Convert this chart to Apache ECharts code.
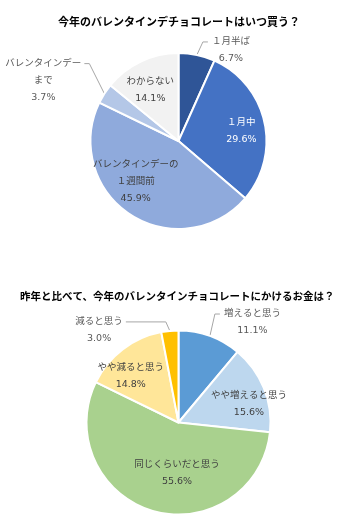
<!DOCTYPE html>
<html><head><meta charset="utf-8">
<script src="https://cdn.jsdelivr.net/npm/echarts@6/dist/echarts.min.js"></script>
<style>html,body{margin:0;padding:0;background:#fff}#c{width:358px;height:529px}</style>
</head><body><div id="c"></div>
<script>
// ---- data ----
const title1 = '今年のバレンタインデチョコレートはいつ買う？';
const whenCategories = ['１月半ば', '１月中', 'バレンタインデーの\n１週間前', 'バレンタインデー\nまで', 'わからない'];
const whenValues = [6.7, 29.6, 45.9, 3.7, 14.1];

const title2 = '昨年と比べて、今年のバレンタインチョコレートにかけるお金は？';
const spendCategories = ['増えると思う', 'やや増えると思う', '同じくらいだと思う', 'やや減ると思う', '減ると思う'];
const spendValues = [11.1, 15.6, 55.6, 14.8, 3.0];

// ---- styles ----
const FONT = '"DejaVu Sans", "Noto Sans CJK JP", sans-serif';
const TFONT = '"Noto Sans CJK JP", sans-serif';
const FS = 9.5;
const LH = 17;
const whenColors = ['#2F5597', '#4472C4', '#8FAADC', '#B4C7E7', '#F2F2F2'];
const spendColors = ['#5B9BD5', '#BDD7EE', '#A9D18E', '#FFE699', '#FFC000'];
const whenText = ['g', 'w', 'd', 'g', 'd'];
const spendText = ['g', 'd', 'd', 'd', 'g'];
// inside: label shift; outside: leader line [dx1, dy1, horizontal]
const whenTweak = [{line: [6, -13, 5]}, {dx: 17, dy: 0}, {dx: -17, dy: 1}, {line: [-15, -30, -5]}, {dx: -8, dy: -9}];
const spendTweak = [{line: [5, -22, 5]}, {dx: 25, dy: 0}, {dx: 12, dy: 3}, {dx: -18, dy: -8}, {line: [-4, -9, -40]}];

const rich = {
  g: {color: '#595959', fontSize: FS, lineHeight: LH, align: 'center', fontFamily: FONT},
  d: {color: '#404040', fontSize: FS, lineHeight: LH, align: 'center', fontFamily: FONT},
  w: {color: '#FFFFFF', fontSize: FS, lineHeight: LH, align: 'center', fontFamily: FONT}
};

function makeSeries(cats, vals, colors, textStyles, tweaks, center, radius) {
  return {
    type: 'pie', center: center, radius: radius, startAngle: 90, clockwise: true,
    avoidLabelOverlap: false, silent: true,
    itemStyle: {borderColor: '#fff', borderWidth: 2},
    labelLine: {show: true, length: 10, length2: 5, lineStyle: {color: '#A6A6A6', width: 1}},
    label: {
      position: 'inside', fontFamily: FONT, fontSize: FS, rich: rich,
      formatter: function (p) {
        const k = textStyles[p.dataIndex];
        const lines = p.name.split('\n').concat([p.value.toFixed(1) + '%']);
        return lines.map(s => '{' + k + '|' + s + '}').join('\n');
      }
    },
    labelLayout: function (params) {
      const t = tweaks[params.dataIndex];
      const r = params.labelRect;
      if (t.line && params.labelLinePoints) {
        const p0 = params.labelLinePoints[0];
        const p1 = [p0[0] + t.line[0], p0[1] + t.line[1]];
        const p2 = [p1[0] + t.line[2], p1[1]];
        const right = t.line[2] > 0;
        return {x: p2[0] + (right ? 4 : -3), y: p2[1] - LH / 2, align: right ? 'left' : 'right', verticalAlign: 'top', labelLinePoints: [p0, p1, p2]};
      }
      return {x: r.x + r.width / 2 + (t.dx || 0), y: r.y + r.height / 2 + (t.dy || 0), align: 'center', verticalAlign: 'middle'};
    },
    data: cats.map((c, i) => ({
      name: c, value: vals[i], itemStyle: {color: colors[i]},
      label: {position: tweaks[i].line ? 'outside' : 'inside'},
      labelLine: {show: !!tweaks[i].line}
    }))
  };
}

const chart = echarts.init(document.getElementById('c'), null, {renderer: 'canvas'});
chart.setOption({
  animation: false,
  title: [
    {text: title1, left: 'center', top: 11, textStyle: {fontFamily: TFONT, fontSize: 11, fontWeight: 'bold', color: '#000'}},
    {text: title2, left: 15, top: 286, textStyle: {fontFamily: TFONT, fontSize: 10.5, fontWeight: 'bold', color: '#000'}}
  ],
  series: [
    makeSeries(whenCategories, whenValues, whenColors, whenText, whenTweak, [178.5, 141], 88),
    makeSeries(spendCategories, spendValues, spendColors, spendText, spendTweak, [178.5, 422.5], 92)
  ]
});
</script>
</body></html>
